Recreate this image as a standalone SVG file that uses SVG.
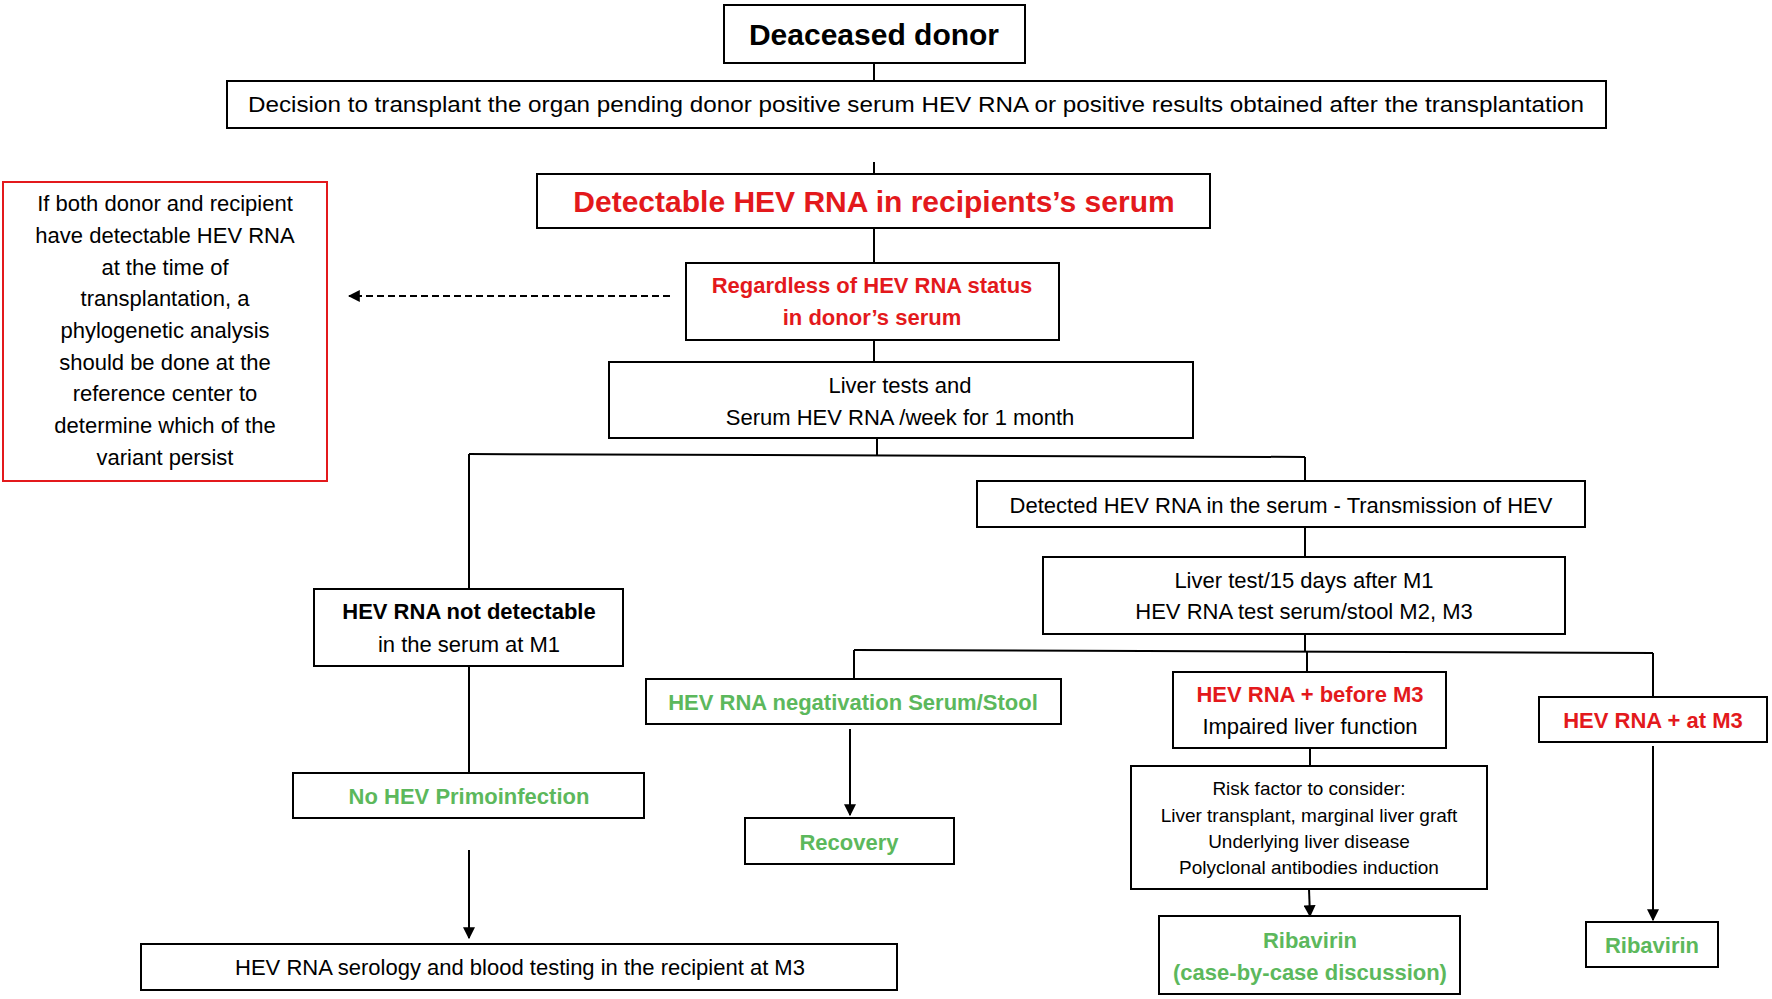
<svg xmlns="http://www.w3.org/2000/svg" width="1772" height="999" viewBox="0 0 1772 999">
<style>
text{font-family:"Liberation Sans",Arial,sans-serif;text-anchor:middle;fill:#000;font-size:22px}
.b{font-weight:bold}.r{fill:#e3191c;font-weight:bold}.g{fill:#5cb85c;font-weight:bold}
.big{font-size:30px}.sm{font-size:19px}
rect.n{fill:#fff;stroke:#000;stroke-width:2}
line{stroke:#000;stroke-width:2;fill:none}
.head{fill:#000;stroke:none}
</style>
<defs><marker id="a" viewBox="0 0 10 10" refX="9" refY="5" markerWidth="6" markerHeight="6" orient="auto"><path class="head" d="M0,0L10,5L0,10z"/></marker></defs>
<g id="connectors">
<line x1="874" y1="63" x2="874" y2="81"/>
<line x1="874" y1="162" x2="874" y2="175"/>
<line x1="874" y1="228" x2="874" y2="263"/>
<line x1="874" y1="340" x2="874" y2="362"/>
<line x1="877" y1="438" x2="877" y2="455"/>
<line x1="469" y1="454" x2="1305" y2="457"/>
<line x1="469" y1="454" x2="469" y2="589"/>
<line x1="1305" y1="457" x2="1305" y2="481"/>
<line x1="1305" y1="527" x2="1305" y2="557"/>
<line x1="1305" y1="634" x2="1305" y2="651"/>
<line x1="854" y1="650" x2="1653" y2="653"/>
<line x1="854" y1="650" x2="854" y2="679"/>
<line x1="1307" y1="652" x2="1307" y2="672"/>
<line x1="1653" y1="653" x2="1653" y2="697"/>
<line x1="469" y1="666" x2="469" y2="773"/>
<line x1="469" y1="850" x2="469" y2="938" marker-end="url(#a)"/>
<line x1="850" y1="729" x2="850" y2="815" marker-end="url(#a)"/>
<line x1="1310" y1="748" x2="1310" y2="766"/>
<line x1="1309" y1="889" x2="1310" y2="916" marker-end="url(#a)"/>
<line x1="1653" y1="746" x2="1653" y2="920" marker-end="url(#a)"/>
<line x1="670" y1="296" x2="349" y2="296" stroke-dasharray="7,4" marker-end="url(#a)"/>
</g>
<g id="donor"><rect class="n" x="724" y="5" width="301" height="58"/><text x="874" y="45" class="b big">Deaceased donor</text></g>
<g id="decision"><rect class="n" x="227" y="81" width="1379" height="47"/><text x="916" y="112" textLength="1336" lengthAdjust="spacingAndGlyphs">Decision to transplant the organ pending donor positive serum HEV RNA or positive results obtained after the transplantation</text></g>
<g id="detectable"><rect class="n" x="537" y="174" width="673" height="54"/><text x="874" y="212" class="r big">Detectable HEV RNA in recipients’s serum</text></g>
<g id="regardless"><rect class="n" x="686" y="263" width="373" height="77"/><text x="872" y="293" class="r">Regardless of HEV RNA status</text><text x="872" y="325" class="r">in donor’s serum</text></g>
<g id="phylo"><rect class="n" x="3" y="182" width="324" height="299" style="stroke:#e3191c"/>
<text x="165" y="211">If both donor and recipient</text><text x="165" y="243">have detectable HEV RNA</text><text x="165" y="275">at the time of</text><text x="165" y="306">transplantation, a</text><text x="165" y="338">phylogenetic analysis</text><text x="165" y="370">should be done at the</text><text x="165" y="401">reference center to</text><text x="165" y="433">determine which of the</text><text x="165" y="465">variant persist</text></g>
<g id="livertests"><rect class="n" x="609" y="362" width="584" height="76"/><text x="900" y="393">Liver tests and</text><text x="900" y="425">Serum HEV RNA /week for 1 month</text></g>
<g id="detected"><rect class="n" x="977" y="481" width="608" height="46"/><text x="1281" y="513">Detected HEV RNA in the serum - Transmission of HEV</text></g>
<g id="liver15"><rect class="n" x="1043" y="557" width="522" height="77"/><text x="1304" y="588">Liver test/15 days after M1</text><text x="1304" y="619">HEV RNA test serum/stool M2, M3</text></g>
<g id="notdet"><rect class="n" x="314" y="589" width="309" height="77"/><text x="469" y="619" class="b">HEV RNA not detectable</text><text x="469" y="652">in the serum at M1</text></g>
<g id="noprimo"><rect class="n" x="293" y="773" width="351" height="45"/><text x="469" y="804" class="g">No HEV Primoinfection</text></g>
<g id="serology"><rect class="n" x="141" y="944" width="756" height="46"/><text x="520" y="975">HEV RNA serology and blood testing in the recipient at M3</text></g>
<g id="negativation"><rect class="n" x="646" y="679" width="415" height="45"/><text x="853" y="710" class="g">HEV RNA negativation Serum/Stool</text></g>
<g id="recovery"><rect class="n" x="745" y="818" width="209" height="46"/><text x="849" y="850" class="g">Recovery</text></g>
<g id="before"><rect class="n" x="1173" y="672" width="273" height="76"/><text x="1310" y="702" class="r">HEV RNA + before M3</text><text x="1310" y="734">Impaired liver function</text></g>
<g id="risk"><rect class="n" x="1131" y="766" width="356" height="123"/><text x="1309" y="795" class="sm">Risk factor to consider:</text><text x="1309" y="822" class="sm">Liver transplant, marginal liver graft</text><text x="1309" y="848" class="sm">Underlying liver disease</text><text x="1309" y="874" class="sm">Polyclonal antibodies induction</text></g>
<g id="riba1"><rect class="n" x="1159" y="916" width="301" height="78"/><text x="1310" y="948" class="g">Ribavirin</text><text x="1310" y="980" class="g">(case-by-case discussion)</text></g>
<g id="atm3"><rect class="n" x="1539" y="697" width="228" height="45"/><text x="1653" y="728" class="r">HEV RNA + at M3</text></g>
<g id="riba2"><rect class="n" x="1586" y="922" width="132" height="45"/><text x="1652" y="953" class="g">Ribavirin</text></g>
</svg>
